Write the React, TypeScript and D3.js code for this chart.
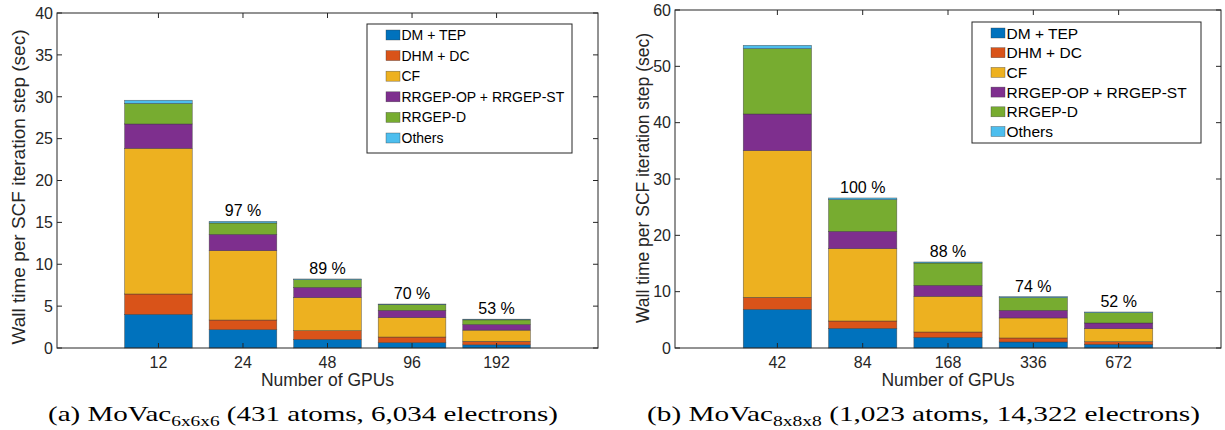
import React from "react";
import * as d3 from "d3";

const seriesNames = ["DM + TEP", "DHM + DC", "CF", "RRGEP-OP + RRGEP-ST", "RRGEP-D", "Others"];
const seriesNamesA = ["DM + TEP", "DHM + DC", "CF", "RRGEP-OP +  RRGEP-ST", "RRGEP-D", "Others"];
const colors = ["#0072BD", "#D95319", "#EDB120", "#7E2F8E", "#77AC30", "#4DBEEE"];

// Panel (a)
const gpusA = ["12", "24", "48", "96", "192"];
const dmTepA = [4.02, 2.19, 1.03, 0.64, 0.38];
const dhmDcA = [2.43, 1.15, 1.04, 0.67, 0.42];
const cfA = [17.39, 8.28, 3.94, 2.31, 1.33];
const rrgepOpStA = [2.91, 1.95, 1.23, 0.88, 0.68];
const rrgepDA = [2.45, 1.36, 0.92, 0.67, 0.55];
const othersA = [0.38, 0.19, 0.08, 0.08, 0.08];
const effA = ["", "97 %", "89 %", "70 %", "53 %"];
const yTicksA = [0, 5, 10, 15, 20, 25, 30, 35, 40];

// Panel (b)
const gpusB = ["42", "84", "168", "336", "672"];
const dmTepB = [6.86, 3.49, 1.89, 1.07, 0.65];
const dhmDcB = [2.13, 1.3, 0.95, 0.71, 0.47];
const cfB = [26.04, 12.84, 6.33, 3.55, 2.31];
const rrgepOpStB = [6.51, 3.08, 1.96, 1.36, 1.01];
const rrgepDB = [11.6, 5.62, 3.96, 2.24, 1.83];
const othersB = [0.59, 0.3, 0.18, 0.18, 0.12];
const effB = ["", "100 %", "88 %", "74 %", "52 %"];
const yTicksB = [0, 10, 20, 30, 40, 50, 60];

const AX = "#262626";
const FONT = "'Liberation Sans', Arial, Helvetica, sans-serif";

type PanelProps = {
  x0: number; x1: number; y0: number; y1: number; yMax: number;
  cats: string[]; series: number[][]; eff: string[]; yTicks: number[];
  names: string[]; legend: { x: number; y: number; w: number; h: number; fs: number; row: number };
  yLabelX: number; yLabelY: number; yLabelFs: number;
};

function Panel(p: PanelProps) {
  const x = d3.scaleLinear().domain([-1.2, p.cats.length - 1 + 1.2]).range([p.x0, p.x1]);
  const y = d3.scaleLinear().domain([0, p.yMax]).range([p.y1, p.y0]);
  const bw = x(0.8) - x(0);
  const rows = p.cats.map((_, i) => {
    const o: any = { i };
    p.series.forEach((s, k) => (o["s" + k] = s[i]));
    return o;
  });
  const stack = d3.stack<any>().keys(p.series.map((_, k) => "s" + k))(rows);
  const totals = p.cats.map((_, i) => d3.sum(p.series, (s) => s[i]));
  const tl = 5;
  return (
    <g>
      {stack.map((layer, k) => (
        <g key={k}>
          {layer.map((d, i) => (
            <rect key={i} x={x(i) - bw / 2} y={y(d[1])} width={bw} height={Math.max(0, y(d[0]) - y(d[1]))}
              fill={colors[k]} stroke="#3a3a3a" strokeWidth={0.6} strokeOpacity={0.7} />
          ))}
        </g>
      ))}
      {p.eff.map((t, i) => t ? (
        <text key={i} x={x(i)} y={y(totals[i]) - 5} textAnchor="middle" fontSize={16} fontFamily={FONT} fill="#000">{t}</text>
      ) : null)}
      {/* axes box */}
      <rect x={p.x0} y={p.y0} width={p.x1 - p.x0} height={p.y1 - p.y0} fill="none" stroke={AX} strokeWidth={1} />
      {p.yTicks.map((t) => (
        <g key={t}>
          <line x1={p.x0} x2={p.x0 + tl} y1={y(t)} y2={y(t)} stroke={AX} />
          <line x1={p.x1} x2={p.x1 - tl} y1={y(t)} y2={y(t)} stroke={AX} />
          <text x={p.x0 - 4} y={y(t)} dy="0.36em" textAnchor="end" fontSize={16} fontFamily={FONT} fill={AX}>{t}</text>
        </g>
      ))}
      {p.cats.map((c, i) => (
        <g key={c}>
          <line x1={x(i)} x2={x(i)} y1={p.y1} y2={p.y1 - tl} stroke={AX} />
          <line x1={x(i)} x2={x(i)} y1={p.y0} y2={p.y0 + tl} stroke={AX} />
          <text x={x(i)} y={p.y1 + 20} textAnchor="middle" fontSize={16} fontFamily={FONT} fill={AX}>{c}</text>
        </g>
      ))}
      <text x={(p.x0 + p.x1) / 2} y={p.y1 + 38} textAnchor="middle" fontSize={17.5} fontFamily={FONT} fill={AX}>Number of GPUs</text>
      <text transform={`translate(${p.yLabelX},${p.yLabelY}) rotate(-90)`} textAnchor="middle" dy="0.35em"
        fontSize={p.yLabelFs} fontFamily={FONT} fill={AX}>Wall time per SCF iteration step (sec)</text>
      {/* legend */}
      <rect x={p.legend.x} y={p.legend.y} width={p.legend.w} height={p.legend.h} fill="#fff" stroke={AX} strokeWidth={1} />
      {p.names.map((n, k) => {
        const cy = p.legend.y + 11 + k * p.legend.row;
        return (
          <g key={n}>
            <rect x={p.legend.x + 19} y={cy - 5} width={14} height={10} fill={colors[k]} stroke="#3a3a3a" strokeWidth={0.5} strokeOpacity={0.7} />
            <text x={p.legend.x + 34.5} y={cy} dy="0.36em" fontSize={p.legend.fs} fontFamily={FONT} fill="#000">{n}</text>
          </g>
        );
      })}
    </g>
  );
}

export default function App() {
  const seriesA = [dmTepA, dhmDcA, cfA, rrgepOpStA, rrgepDA, othersA];
  const seriesB = [dmTepB, dhmDcB, cfB, rrgepOpStB, rrgepDB, othersB];
  const capFont = "'Liberation Serif', 'DejaVu Serif', serif";
  return (
    <svg width={1225} height={430} style={{ position: "absolute", left: 0, top: 0, background: "#fff" }}>
      <rect width={1225} height={430} fill="#fff" />
      <Panel x0={57} x1={598} y0={13} y1={348} yMax={40} cats={gpusA} series={seriesA} eff={effA} yTicks={yTicksA}
        names={seriesNamesA} legend={{ x: 367, y: 24, w: 205, h: 129, fs: 14, row: 20.6 }} yLabelX={18} yLabelY={187} yLabelFs={19} />
      <Panel x0={675} x1={1221} y0={10} y1={348} yMax={60} cats={gpusB} series={seriesB} eff={effB} yTicks={yTicksB}
        names={seriesNames} legend={{ x: 972, y: 22, w: 229, h: 121, fs: 15.5, row: 19.7 }} yLabelX={643} yLabelY={178} yLabelFs={17.5} />
      <text x={48} y={421} fontSize={21} fontFamily={capFont} fill="#000" textLength={510} lengthAdjust="spacingAndGlyphs">
        (a) MoVac<tspan fontSize={14} dy={5}>6x6x6</tspan><tspan dy={-5}> (431 atoms, 6,034 electrons)</tspan>
      </text>
      <text x={647} y={421} fontSize={21} fontFamily={capFont} fill="#000" textLength={553} lengthAdjust="spacingAndGlyphs">
        (b) MoVac<tspan fontSize={14} dy={5}>8x8x8</tspan><tspan dy={-5}> (1,023 atoms, 14,322 electrons)</tspan>
      </text>
    </svg>
  );
}
